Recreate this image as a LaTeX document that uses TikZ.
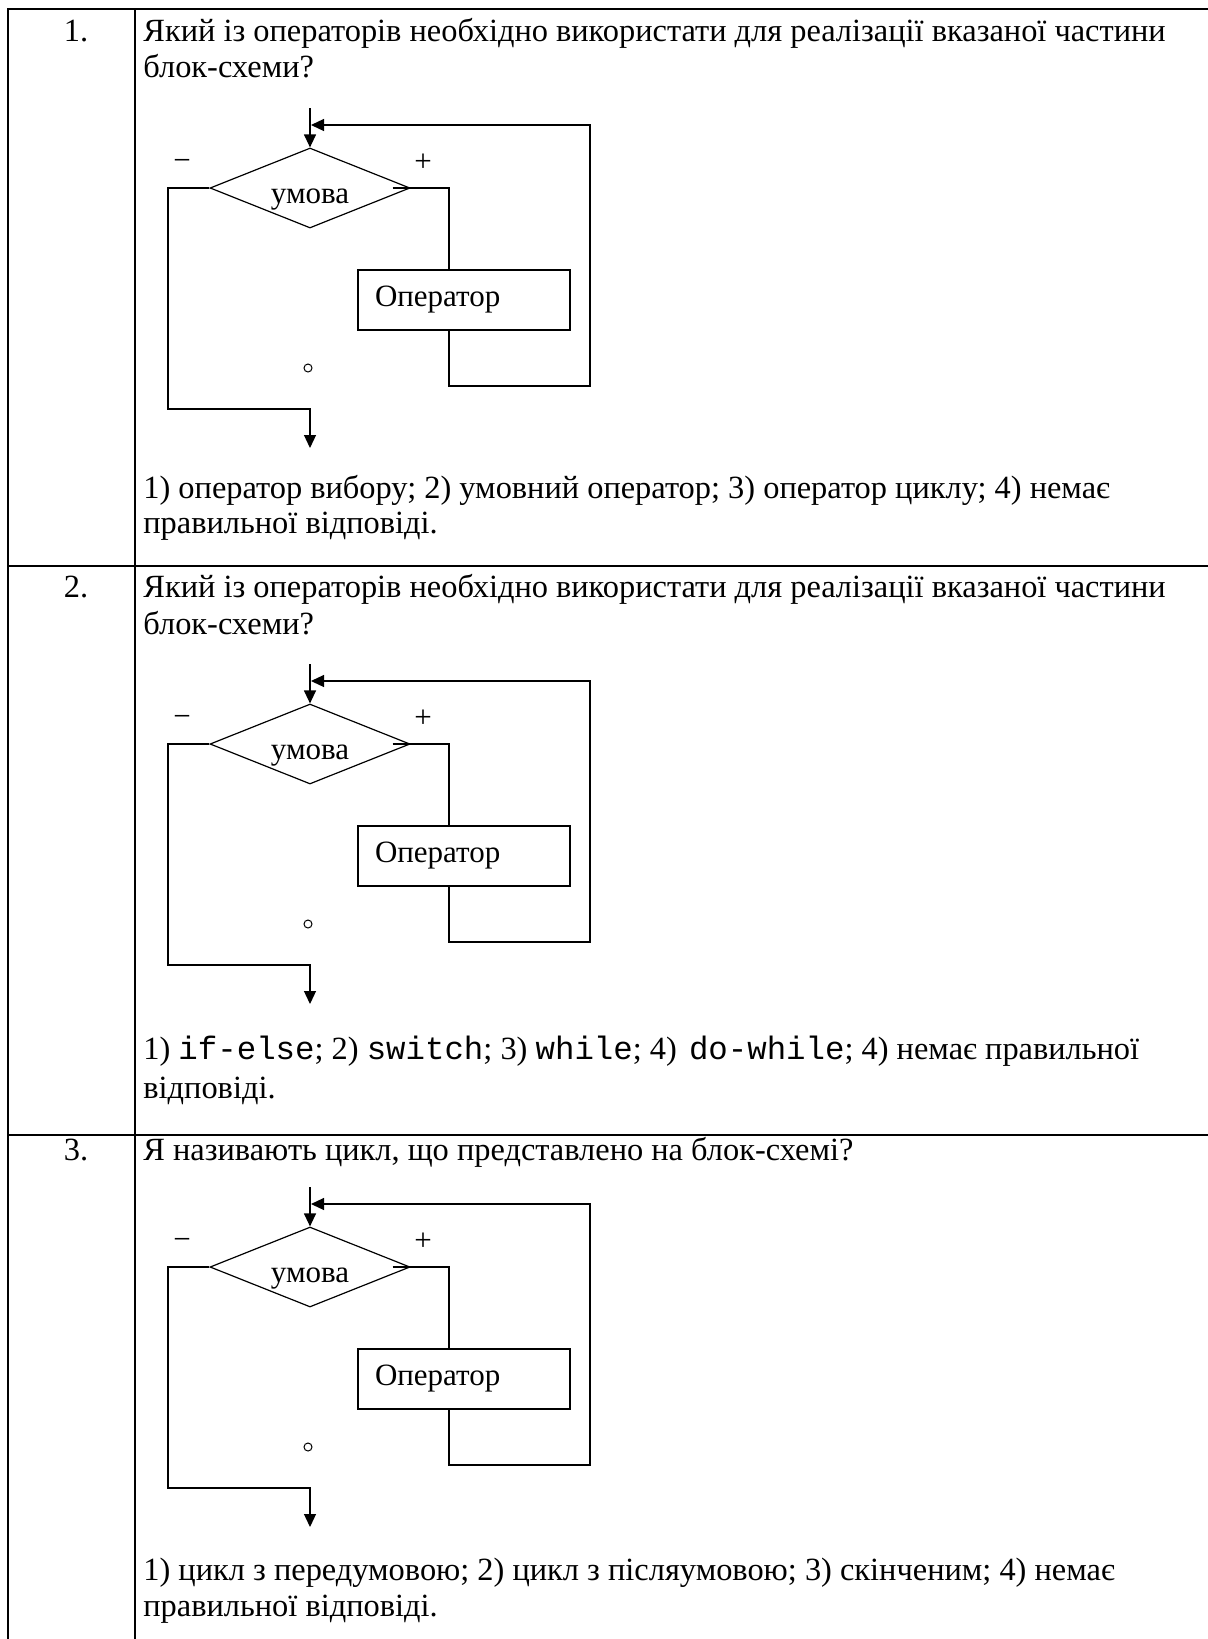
\documentclass[tikz,border=0pt]{standalone}
\usepackage{fontspec}
\setmainfont{Liberation Serif}
\setmonofont{Liberation Mono}
\usetikzlibrary{shapes.geometric,arrows.meta,positioning}

\begin{document}
\begin{tikzpicture}[x=0.5pt, y=-0.5pt,
  every node/.style={font=\fontsize{15.5}{18.5}\selectfont},
  cond/.style={draw, diamond, aspect=2.5, inner sep=0pt, minimum width=100pt, minimum height=40pt, text height=15pt, text depth=0pt, line width=0.6pt},
  opbox/.style={draw, rectangle, minimum height=30pt, text width=89pt, inner xsep=8.5pt, inner ysep=0pt, align=left, line width=0.6pt},
  sign/.style={anchor=base, inner sep=0pt},
  dot/.style={draw, circle, inner sep=0pt, minimum size=4pt, line width=0.5pt},
  flow/.style={line width=0.6pt},
  arr/.style={flow, -{Triangle[length=6.5pt, width=6pt]}},
  txt/.style={anchor=base west, inner sep=0pt, font=\fontsize{16.2}{19}\selectfont},
  num/.style={anchor=base, inner sep=0pt, font=\fontsize{16.2}{19}\selectfont},
  grid/.style={line width=1pt, line cap=rect}]
  \useasboundingbox (0,0) rectangle (1207,1639);

  \draw[grid] (8,9) -- (1207,9);
  \draw[grid] (8,566) -- (1207,566);
  \draw[grid] (8,1135) -- (1207,1135);
  \draw[grid] (8,9) -- (8,1639);
  \draw[grid] (135,9) -- (135,1639);

  % row 1
  \node[num] (n1) at (76,41) {1.};
  \node[txt] (q1a) at (143,41) {Який із операторів необхідно використати для реалізації вказаної частини};
  \node[txt] (q1b) at (143,77) {блок-схеми?};

  \node[cond] at (310,188) (c1) {умова};
  \node[opbox] at (464,300) (op1) {Оператор};
  \node[sign] at (182,170) (m1) {−};
  \node[sign] at (423,171) (p1) {+};
  \node[dot] at (308,368) (d1) {};
  \coordinate (in1) at (310,108);
  \coordinate (j1) at (311,125);
  \coordinate (r1) at (590,386);
  \coordinate (l1) at (168,409);
  \coordinate (out1) at (310,448);

  \draw[arr] (in1) -- (c1.north);
  \draw[flow] ([xshift=-9pt]c1.east) -| ([xshift=-7.5pt]op1.north);
  \draw[arr] ([xshift=-7.5pt]op1.south) |- (r1) |- (j1);
  \draw[arr] (c1.west) -| (l1) -| (out1);

  \node[txt] (a1a) at (143,498) {1) оператор вибору; 2) умовний оператор; 3) оператор циклу; 4) немає};
  \node[txt] (a1b) at (143,533) {правильної відповіді.};

  % row 2
  \node[num] (n2) at (76,597) {2.};
  \node[txt] (q2a) at (143,597) {Який із операторів необхідно використати для реалізації вказаної частини};
  \node[txt] (q2b) at (143,634) {блок-схеми?};

  \node[cond] at (310,744) (c2) {умова};
  \node[opbox] at (464,856) (op2) {Оператор};
  \node[sign] at (182,726) (m2) {−};
  \node[sign] at (423,727) (p2) {+};
  \node[dot] at (308,924) (d2) {};
  \coordinate (in2) at (310,664);
  \coordinate (j2) at (311,681);
  \coordinate (r2) at (590,942);
  \coordinate (l2) at (168,965);
  \coordinate (out2) at (310,1004);

  \draw[arr] (in2) -- (c2.north);
  \draw[flow] ([xshift=-9pt]c2.east) -| ([xshift=-7.5pt]op2.north);
  \draw[arr] ([xshift=-7.5pt]op2.south) |- (r2) |- (j2);
  \draw[arr] (c2.west) -| (l2) -| (out2);

  \node[txt] (a2a) at (143,1059) {1) \texttt{if-else}; 2) \texttt{switch}; 3) \texttt{while}; 4) \hspace{2pt}\texttt{do-while}; 4) немає правильної};
  \node[txt] (a2b) at (143,1098) {відповіді.};

  % row 3
  \node[num] (n3) at (76,1160) {3.};
  \node[txt] (q3a) at (143,1160) {Я називають цикл, що представлено на блок-схемі?};

  \node[cond] at (310,1267) (c3) {умова};
  \node[opbox] at (464,1379) (op3) {Оператор};
  \node[sign] at (182,1249) (m3) {−};
  \node[sign] at (423,1250) (p3) {+};
  \node[dot] at (308,1447) (d3) {};
  \coordinate (in3) at (310,1187);
  \coordinate (j3) at (311,1204);
  \coordinate (r3) at (590,1465);
  \coordinate (l3) at (168,1488);
  \coordinate (out3) at (310,1527);

  \draw[arr] (in3) -- (c3.north);
  \draw[flow] ([xshift=-9pt]c3.east) -| ([xshift=-7.5pt]op3.north);
  \draw[arr] ([xshift=-7.5pt]op3.south) |- (r3) |- (j3);
  \draw[arr] (c3.west) -| (l3) -| (out3);

  \node[txt] (a3a) at (143,1580) {1) цикл з передумовою; 2) цикл з післяумовою; 3) скінченим; 4) немає};
  \node[txt] (a3b) at (143,1616) {правильної відповіді.};

\end{tikzpicture}
\end{document}
